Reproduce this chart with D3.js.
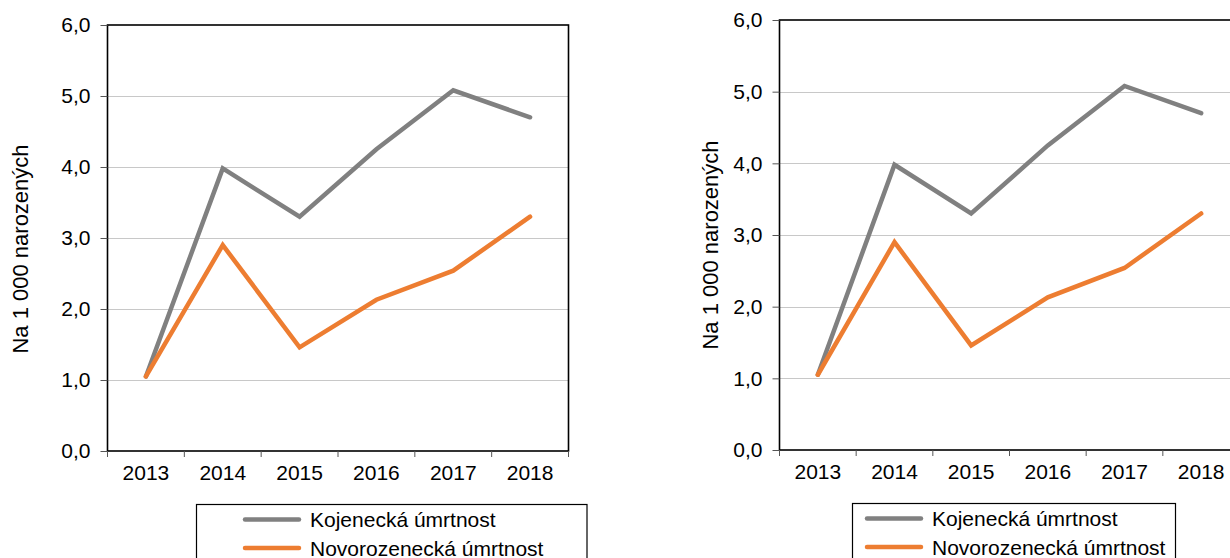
<!DOCTYPE html>
<html>
<head>
<meta charset="utf-8">
<script src="https://cdn.jsdelivr.net/npm/d3@7"></script>
<style>
  html, body { margin: 0; padding: 0; background: #fff; }
  svg { display: block; font-family: "Liberation Sans", Arial, sans-serif; }
</style>
</head>
<body>
<svg id="chart" width="1230" height="558"></svg>
<script>
const years = ["2013", "2014", "2015", "2016", "2017", "2018"];
const kojenecka = [1.05, 3.98, 3.30, 4.25, 5.08, 4.70];
const novorozenecka = [1.05, 2.90, 1.46, 2.13, 2.54, 3.30];
const yTicks = [0, 1, 2, 3, 4, 5, 6];
const seriesNames = ["Kojenecká úmrtnost", "Novorozenecká úmrtnost"];
const seriesColors = ["#808080", "#ED7D31"];
const yLabel = "Na 1 000 narozených";

const svg = d3.select("#chart");
const fmt = v => d3.format(".1f")(v).replace(".", ",");

function panel(cfg) {
  const g = svg.append("g");
  const x = d3.scaleBand().domain(years).range([cfg.left, cfg.left + cfg.width]);
  const y = d3.scaleLinear().domain([0, 6]).range([cfg.top + cfg.height, cfg.top]);

  // gridlines
  g.append("g").selectAll("line").data(yTicks.slice(1, -1)).join("line")
    .attr("x1", cfg.left).attr("x2", cfg.left + cfg.width)
    .attr("y1", d => Math.round(y(d)) + 0.5).attr("y2", d => Math.round(y(d)) + 0.5)
    .attr("stroke", "#c8c8c8").attr("stroke-width", 1);

  // frame
  g.append("rect")
    .attr("x", cfg.left).attr("y", cfg.top)
    .attr("width", cfg.width).attr("height", cfg.height)
    .attr("fill", "none").attr("stroke", "#000").attr("stroke-width", 1.6);

  // y axis
  const yAxis = d3.axisLeft(y).tickValues(yTicks).tickFormat(fmt).tickSize(7).tickPadding(10);
  const ya = g.append("g").attr("transform", `translate(${cfg.left},0)`).call(yAxis);
  ya.select(".domain").remove();
  ya.selectAll("line").attr("stroke", "#555");
  ya.selectAll("text").attr("font-size", 21).attr("fill", "#000")
    .attr("font-family", "Liberation Sans, Arial, sans-serif");

  // x axis
  const xTickPos = years.map(d => x(d)).concat([cfg.left + cfg.width]);
  g.append("g").selectAll("line").data(xTickPos).join("line")
    .attr("x1", d => d).attr("x2", d => d)
    .attr("y1", cfg.top + cfg.height).attr("y2", cfg.top + cfg.height + 6)
    .attr("stroke", "#555").attr("stroke-width", 1);
  g.append("g").selectAll("text").data(years).join("text")
    .attr("x", d => x(d) + x.bandwidth() / 2)
    .attr("y", cfg.top + cfg.height + 29)
    .attr("text-anchor", "middle").attr("font-size", 21).attr("fill", "#000")
    .text(d => d);

  // y label
  g.append("text")
    .attr("transform", `translate(${cfg.labelX},${cfg.labelY}) rotate(-90)`)
    .attr("text-anchor", "middle").attr("font-size", 22).attr("fill", "#000")
    .text(yLabel);

  // lines
  const line = d3.line().x((d, i) => x(years[i]) + x.bandwidth() / 2).y(d => y(d));
  [kojenecka, novorozenecka].forEach((s, i) => {
    g.append("path").datum(s).attr("d", line)
      .attr("fill", "none").attr("stroke", seriesColors[i])
      .attr("stroke-width", 4.5).attr("stroke-linejoin", "miter")
      .attr("stroke-linecap", "round");
  });

  // legend
  const lg = g.append("g");
  lg.append("rect")
    .attr("x", cfg.legX).attr("y", cfg.legY)
    .attr("width", cfg.legW).attr("height", 80)
    .attr("fill", "#fff").attr("stroke", "#000").attr("stroke-width", 1.2);
  seriesNames.forEach((n, i) => {
    const yy = cfg.legY + 15 + i * 28.5;
    lg.append("line")
      .attr("x1", cfg.legLineX).attr("x2", cfg.legLineX + 54)
      .attr("y1", yy).attr("y2", yy)
      .attr("stroke", seriesColors[i]).attr("stroke-width", 4.5)
      .attr("stroke-linecap", "round");
    lg.append("text")
      .attr("x", cfg.legLineX + 65).attr("y", yy + 7.5)
      .attr("font-size", 21).attr("fill", "#000").text(n);
  });
}

panel({ left: 107.5, top: 25, width: 461, height: 426, labelX: 28, labelY: 249,
        legX: 196.5, legY: 504.5, legW: 390.5, legLineX: 245 });
panel({ left: 779.5, top: 20, width: 460, height: 430, labelX: 718, labelY: 245,
        legX: 852.5, legY: 503.5, legW: 323, legLineX: 867 });
</script>
</body>
</html>
